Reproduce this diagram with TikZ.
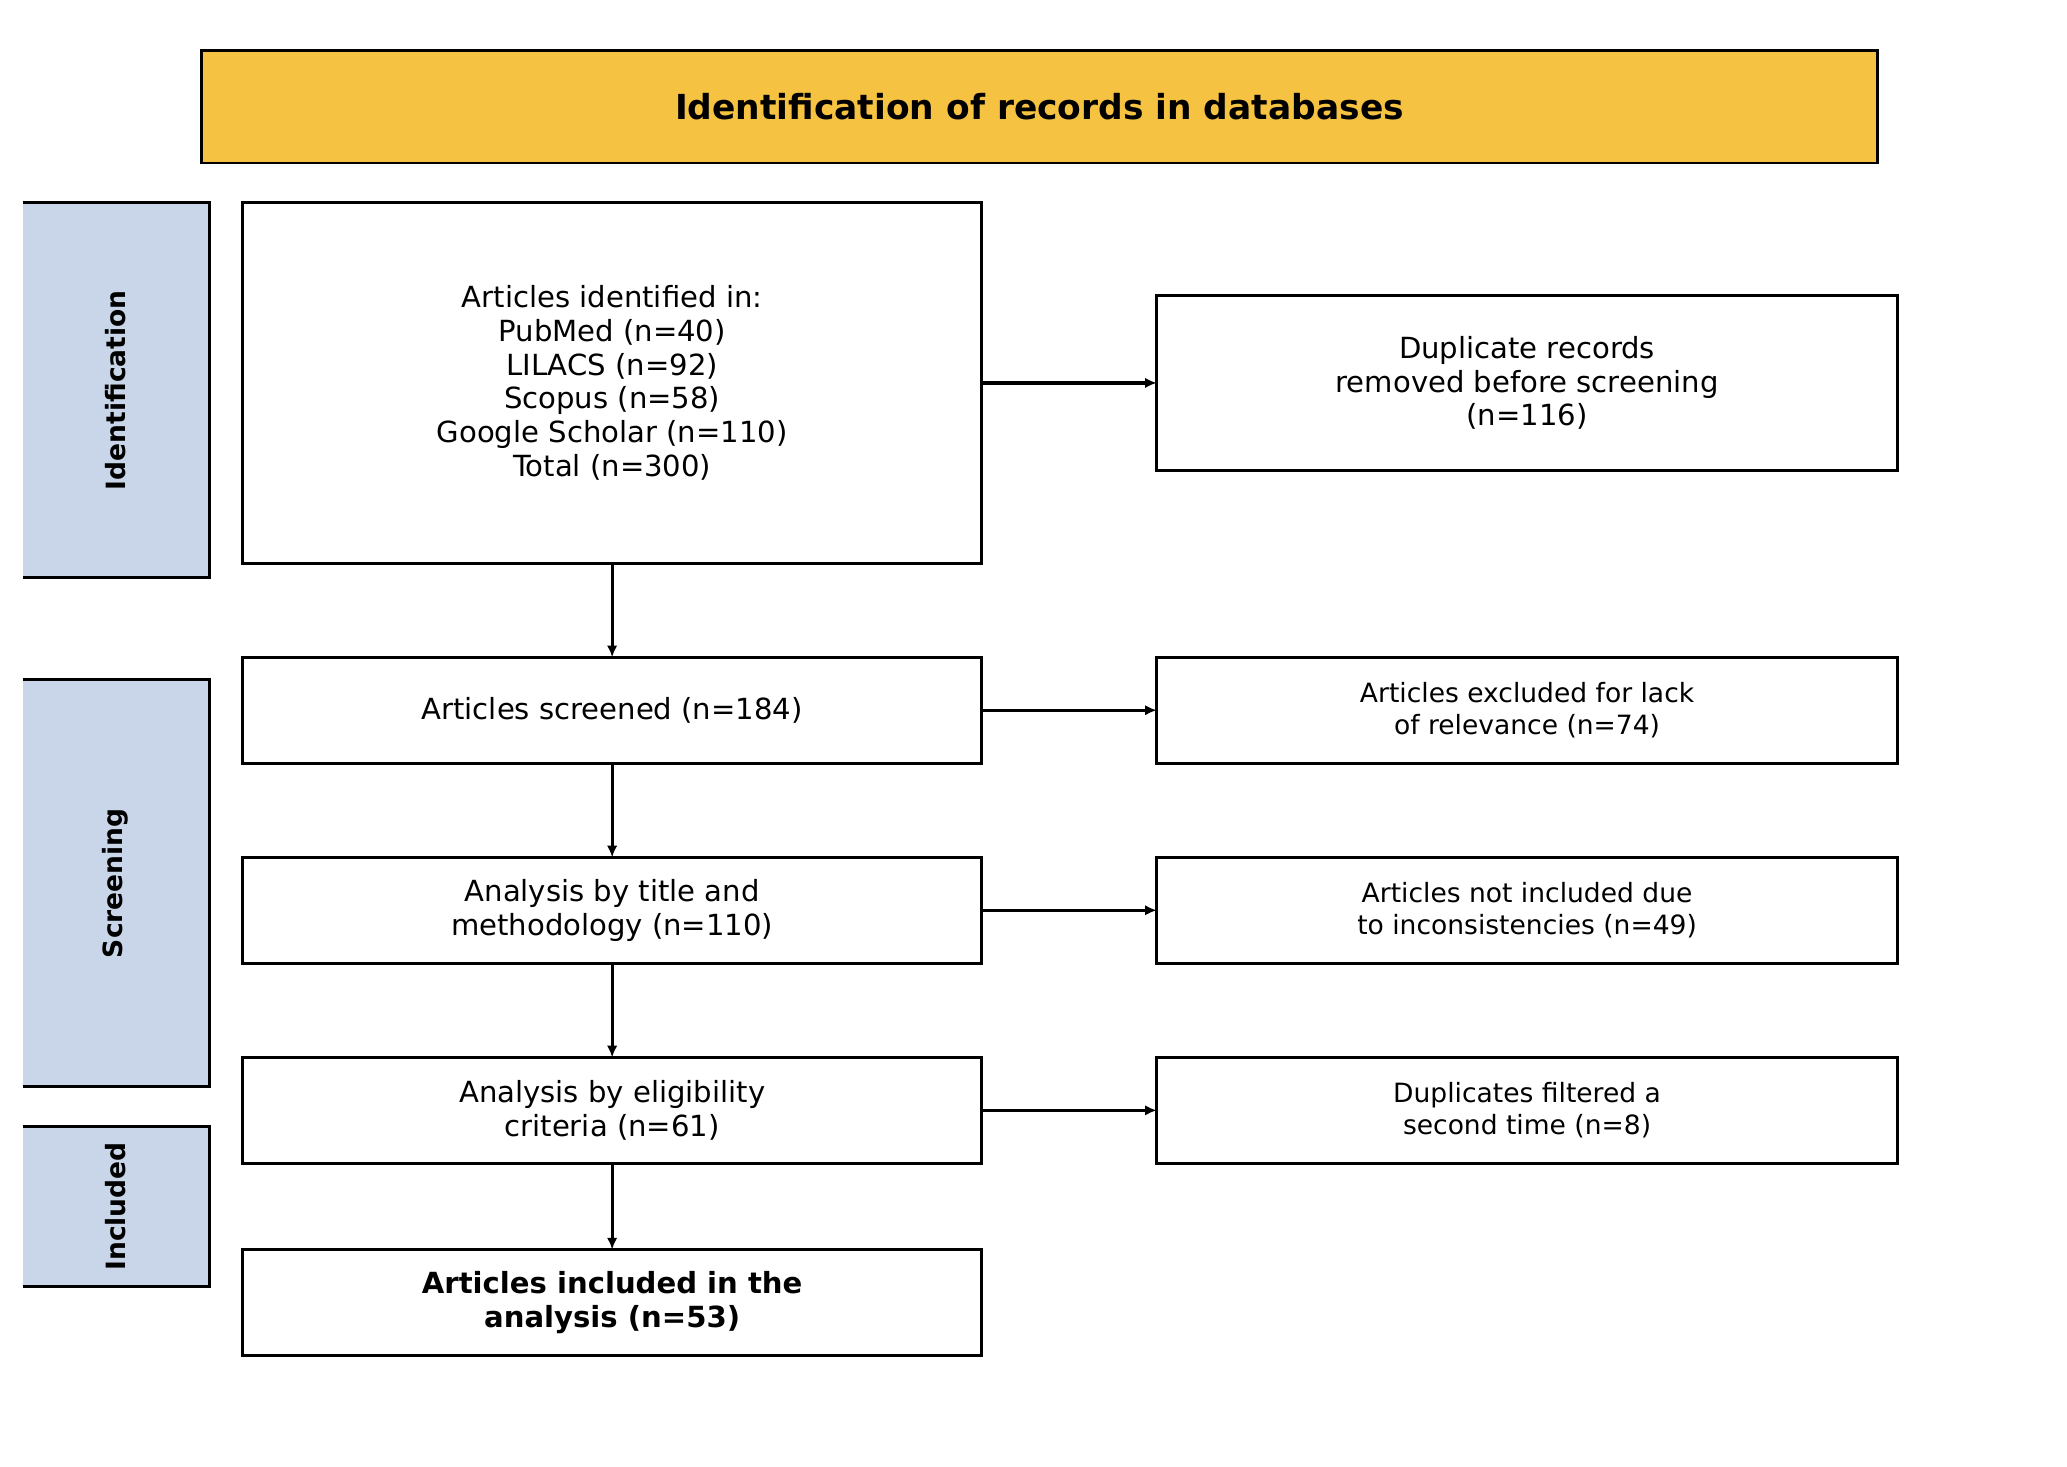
\documentclass[tikz,border=0pt]{standalone}
\usepackage{fontspec}
\setmainfont{DejaVu Sans}
\usetikzlibrary{arrows.meta}
\definecolor{gold}{HTML}{F5C242}
\definecolor{side}{HTML}{C9D5E8}
\begin{document}
\begin{tikzpicture}[x=0.02cm,y=-0.02cm,
  box/.style={draw,line width=1.2pt,fill=white},
  txt/.style={align=center,font=\fontsize{12.5}{14.5}\selectfont},
  rtxt/.style={align=center,font=\fontsize{11.4}{13.5}\selectfont},
  arr/.style={line width=1.4pt,-{Latex[length=5pt,width=4.5pt]}},
  sidelab/.style={rotate=90,font=\bfseries\fontsize{11.4}{13}\selectfont}]
\useasboundingbox (0,0) rectangle (1560,1107);
% title
\draw[line width=1.2pt,fill=gold] (152,38) rectangle (1417,123);
\node[font=\bfseries\fontsize{14.8}{17}\selectfont] (title) at (784.5,80.5) {Identification of records in databases};
% side bars
\fill[side] (17,153) rectangle (158,436);
\draw[line width=1.2pt] (17,153) -- (158,153) -- (158,436) -- (17,436);
\node[sidelab] (s1) at (87,294.5) {Identification};
\fill[side] (17,513) rectangle (158,820);
\draw[line width=1.2pt] (17,513) -- (158,513) -- (158,820) -- (17,820);
\node[sidelab] (s2) at (87,666.5) {Screening};
\fill[side] (17,850) rectangle (158,971);
\draw[line width=1.2pt] (17,850) -- (158,850) -- (158,971) -- (17,971);
\node[sidelab] (s3) at (87,910.5) {Included};
% main boxes
\draw[box] (183,153) rectangle (741,425);
\node[txt] (a) at (462,289) {Articles identified in:\\PubMed (n=40)\\LILACS (n=92)\\Scopus (n=58)\\Google Scholar (n=110)\\Total (n=300)};
\coordinate (aT) at (462,425); \coordinate (aR) at (741,289);
\draw[box] (183,496) rectangle (741,576);
\node[txt] (b) at (462,536) {Articles screened (n=184)};
\draw[box] (183,647) rectangle (741,727);
\node[txt] (c) at (462,687) {Analysis by title and\\methodology (n=110)};
\draw[box] (183,798) rectangle (741,878);
\node[txt] (d) at (462,838) {Analysis by eligibility\\criteria (n=61)};
\draw[box] (183,943) rectangle (741,1023);
\node[txt,font=\bfseries\fontsize{12.5}{14.5}\selectfont] (e) at (462,983) {Articles included in the\\analysis (n=53)};
% right boxes
\draw[box] (873,223) rectangle (1432,355);
\node[txt] (r1) at (1152.5,289) {Duplicate records\\removed before screening\\(n=116)};
\draw[box] (873,496) rectangle (1432,576);
\node[rtxt] (r2) at (1152.5,536) {Articles excluded for lack\\of relevance (n=74)};
\draw[box] (873,647) rectangle (1432,727);
\node[rtxt] (r3) at (1152.5,687) {Articles not included due\\to inconsistencies (n=49)};
\draw[box] (873,798) rectangle (1432,878);
\node[rtxt] (r4) at (1152.5,838) {Duplicates filtered a\\second time (n=8)};
% coordinates
\foreach \n/\y in {b/496,c/647,d/798,e/943}{\coordinate (\n T) at (462,\y);}
\foreach \n/\y in {b/576,c/727,d/878}{\coordinate (\n B) at (462,\y);}
\foreach \n/\y in {b/536,c/687,d/838}{\coordinate (\n R) at (741,\y);}
\coordinate (r1L) at (873,289);
\foreach \n/\y in {r2/536,r3/687,r4/838}{\coordinate (\n L) at (873,\y);}
% arrows
\draw[arr] (aT) -- (bT);
\draw[arr] (bB) -- (cT);
\draw[arr] (cB) -- (dT);
\draw[arr] (dB) -- (eT);
\draw[arr] (aR) -- (r1L);
\draw[arr] (bR) -- (r2L);
\draw[arr] (cR) -- (r3L);
\draw[arr] (dR) -- (r4L);
\end{tikzpicture}
\end{document}
